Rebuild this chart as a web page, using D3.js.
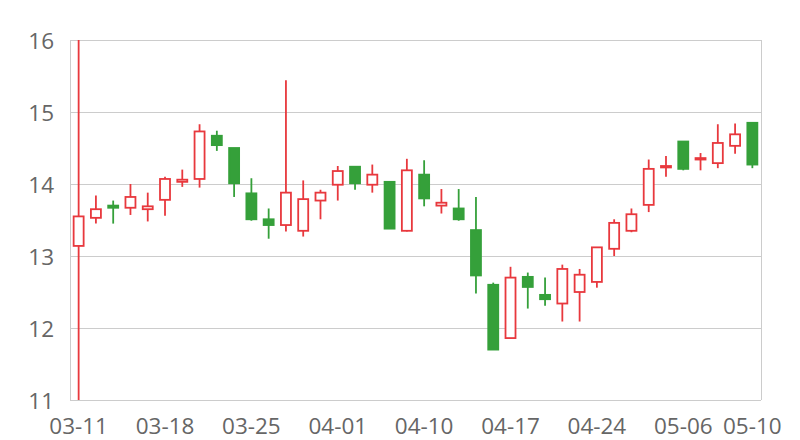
<!DOCTYPE html>
<html>
<head>
<meta charset="utf-8">
<script src="https://cdn.jsdelivr.net/npm/d3@7"></script>
<style>
  html, body { margin: 0; padding: 0; background: #fff; }
  svg { display: block; }
</style>
</head>
<body>
<svg id="chart" width="800" height="440"></svg>
<script>
const dates = ["03-11","03-12","03-13","03-14","03-15","03-18","03-19","03-20","03-21","03-22",
  "03-25","03-26","03-27","03-28","03-29","04-01","04-02","04-03","04-08","04-09",
  "04-10","04-11","04-12","04-15","04-16","04-17","04-18","04-19","04-22","04-23",
  "04-24","04-25","04-26","04-29","04-30","05-06","05-07","05-08","05-09","05-10"];
const openValues  = [13.14,13.53,13.70,13.67,13.65,13.78,14.03,14.07,14.67,14.50,
  13.87,13.51,13.43,13.35,13.77,13.99,14.24,13.99,14.03,13.35,
  14.13,13.70,13.66,13.36,12.60,11.86,12.71,12.46,12.34,12.50,
  12.64,13.10,13.35,13.71,14.23,14.59,14.34,14.29,14.53,14.85];
const closeValues = [13.55,13.65,13.67,13.82,13.69,14.07,14.06,14.73,14.54,14.01,
  13.51,13.43,13.88,13.79,13.88,14.18,14.01,14.13,13.38,14.19,
  13.80,13.74,13.51,12.73,11.70,12.70,12.57,12.40,12.82,12.74,
  13.12,13.46,13.58,14.21,14.25,14.21,14.36,14.57,14.69,14.27];
const highValues  = [16.00,13.84,13.77,14.00,13.88,14.10,14.20,14.83,14.74,14.50,
  14.08,13.66,15.44,14.05,13.92,14.25,14.24,14.27,14.04,14.35,
  14.33,13.93,13.93,13.82,12.63,12.85,12.77,12.70,12.88,12.82,
  13.12,13.51,13.66,14.34,14.39,14.59,14.43,14.83,14.84,14.85];
const lowValues   = [11.00,13.45,13.45,13.57,13.48,13.56,13.96,13.95,14.46,13.82,
  13.49,13.24,13.34,13.27,13.51,13.77,13.92,13.88,13.38,13.34,
  13.69,13.59,13.49,12.48,11.70,11.86,12.27,12.31,12.09,12.09,
  12.56,13.00,13.33,13.61,14.10,14.19,14.19,14.22,14.42,14.22];
const xTickLabels = ["03-11","03-18","03-25","04-01","04-10","04-17","04-24","05-06","05-10"];
const yTicks = [11,12,13,14,15,16];

const upColor = "#e8383d";
const downColor = "#35a03a";

const data = dates.map((d, i) => ({
  date: d, open: openValues[i], close: closeValues[i], high: highValues[i], low: lowValues[i]
}));

const svg = d3.select("#chart");
const plotLeft = 70, plotRight = 761, plotTop = 40, plotBottom = 400;

const x = d3.scaleBand().domain(dates).range([plotLeft, plotRight]).padding(0);
const y = d3.scaleLinear().domain([11, 16]).range([plotBottom, plotTop]);

// grid lines
svg.append("g").selectAll("line").data(yTicks).join("line")
  .attr("x1", plotLeft).attr("x2", plotRight)
  .attr("y1", d => y(d) + 0.5).attr("y2", d => y(d) + 0.5)
  .attr("stroke", "#cccccc").attr("stroke-width", 1);

// left/right borders
[plotLeft, plotRight].forEach(px => {
  svg.append("line").attr("x1", px + 0.5).attr("x2", px + 0.5)
    .attr("y1", plotTop).attr("y2", plotBottom)
    .attr("stroke", "#cccccc").attr("stroke-width", 1);
});

const fontFam = "'Open Sans', 'Noto Sans', sans-serif";

// y labels
svg.append("g").selectAll("text").data(yTicks).join("text")
  .attr("x", 54).attr("y", d => y(d))
  .attr("text-anchor", "end").attr("dominant-baseline", "central")
  .attr("font-family", fontFam)
  .attr("font-size", 22.5).attr("fill", "#666666")
  .text(d => d);

// x labels
svg.append("g").selectAll("text").data(xTickLabels).join("text")
  .attr("x", d => x(d) + x.bandwidth() / 2).attr("y", 434)
  .attr("text-anchor", "middle")
  .attr("font-family", fontFam)
  .attr("font-size", 22.5).attr("fill", "#666666")
  .text(d => d);

// clip
svg.append("clipPath").attr("id", "plotclip").append("rect")
  .attr("x", plotLeft).attr("y", plotTop).attr("width", plotRight - plotLeft).attr("height", plotBottom - plotTop);

const bodyW = 10;
const g = svg.append("g").attr("clip-path", "url(#plotclip)");
const c = g.selectAll("g.candle").data(data).join("g").attr("class", "candle");

c.append("line")
  .attr("x1", d => x(d.date) + x.bandwidth() / 2)
  .attr("x2", d => x(d.date) + x.bandwidth() / 2)
  .attr("y1", d => y(d.high)).attr("y2", d => y(d.low))
  .attr("stroke", d => d.close >= d.open ? upColor : downColor)
  .attr("stroke-width", 1.8);

c.append("rect")
  .attr("x", d => x(d.date) + x.bandwidth() / 2 - bodyW / 2)
  .attr("width", bodyW)
  .attr("y", d => y(Math.max(d.open, d.close)))
  .attr("height", d => Math.max(1, Math.abs(y(d.open) - y(d.close))))
  .attr("fill", d => d.close >= d.open ? "#ffffff" : downColor)
  .attr("stroke", d => d.close >= d.open ? upColor : downColor)
  .attr("stroke-width", 1.8);
</script>
</body>
</html>
